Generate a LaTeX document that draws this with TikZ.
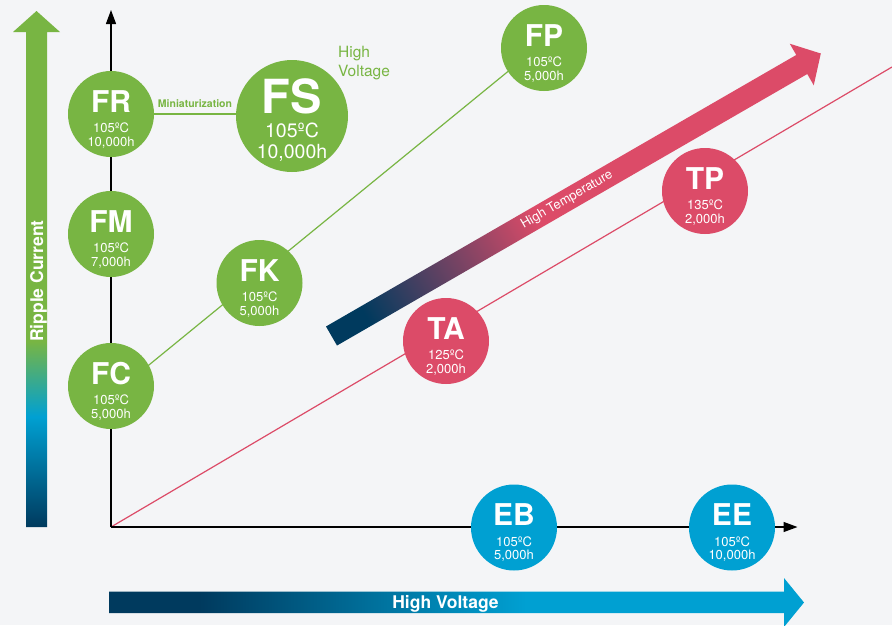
\documentclass[tikz,border=0pt]{standalone}
\usepackage{fontspec}
\setmainfont{TeX Gyre Heros}
\usetikzlibrary{arrows.meta,backgrounds}
\definecolor{bg}{HTML}{F4F5F7}
\definecolor{cgreen}{HTML}{78B543}
\definecolor{cred}{HTML}{DC4B68}
\definecolor{cblue}{HTML}{00A0D2}
\definecolor{cnavy}{HTML}{003A5E}
\pgfdeclareverticalshading{rippleshade}{100bp}{color(0bp)=(cnavy); color(25bp)=(cnavy); color(35.7bp)=(cblue); color(43bp)=(cgreen); color(75bp)=(cgreen); color(100bp)=(cgreen)}
\pgfdeclarehorizontalshading{voltshade}{100bp}{color(0bp)=(cnavy); color(31.5bp)=(cnavy); color(55bp)=(cblue); color(100bp)=(cblue)}
\pgfdeclarehorizontalshading{tempshade}{100bp}{color(0bp)=(cnavy); color(28.5bp)=(cnavy); color(46bp)=(cred); color(100bp)=(cred)}
\tikzset{
  bubg/.style={circle, inner sep=0pt, minimum size=86pt, fill=cgreen},
  bubr/.style={circle, inner sep=0pt, minimum size=86pt, fill=cred},
  bubb/.style={circle, inner sep=0pt, minimum size=86pt, fill=cblue},
  ttl/.style={anchor=base, inner sep=0pt, text=white, font=\bfseries\fontsize{30}{30}\selectfont},
  sub/.style={anchor=base, inner sep=0pt, text=white, font=\fontsize{13}{13}\selectfont},
  axisline/.style={line width=1.3pt, black, -{Triangle[length=14pt,width=10pt]}},
  gline/.style={line width=1.2pt, cgreen},
  rline/.style={line width=1.2pt, cred},
  bigtext/.style={text=white, inner sep=0pt, font=\bfseries\fontsize{17.5}{17.5}\selectfont},
  gtext/.style={text=cgreen, inner sep=0pt, font=\fontsize{15.5}{15.5}\selectfont},
}
\newcommand\bubble[7]{%
  \node[#4] (#1) at (#2,#3) {};
  \node[ttl] (#1-t) at ([yshift=2pt]#1.center) {#5};
  \node[sub] (#1-a) at ([yshift=-18.5pt]#1.center) {#6};
  \node[sub] (#1-b) at ([yshift=-32pt]#1.center) {#7};}
\begin{document}
\begin{tikzpicture}[x=1pt,y=-1pt]
\begin{scope}[on background layer]
\fill[bg] (0,0) rectangle (892,625);
\end{scope}
\useasboundingbox (0,0) rectangle (892,625);

% left gradient arrow
\shade[shading=rippleshade] (26,527) -- (26,32) -- (13,32) -- (36.5,11) -- (60,32) -- (47,32) -- (47,527) -- cycle;
\node[bigtext, rotate=90, anchor=base] (ripple) at (43,281) {Ripple Current};

% bottom gradient arrow
\shade[shading=voltshade] (109,591.5) -- (784,591.5) -- (784,578) -- (804,602.5) -- (784,627) -- (784,613) -- (109,613) -- cycle;
\node[bigtext, anchor=base] (hvolt) at (445.5,608) {High Voltage};

% axes
\coordinate (O) at (111,527);
\coordinate (ytop) at (111,10);
\coordinate (xend) at (797.5,527);
\coordinate (redend) at (892,67);
\draw[rline] (O) -- (redend);
\draw[axisline] (O) -- (ytop);
\draw[axisline] (O) -- (xend);

% high temperature arrow
\begin{scope}[transform canvas={shift={(331.5,336)}, rotate=30}]
\shade[shading=tempshade] (0,-11) -- (543,-11) -- (543,-24) -- (565,0) -- (543,24) -- (543,11) -- (0,11) -- cycle;
\end{scope}
\node[rotate=30, text=white, inner sep=0pt, font=\fontsize{13}{13}\selectfont] (htemp) at (567,200) {High Temperature};

% bubbles
\bubble{FR}{111}{114}{bubg}{FR}{105ºC}{10,000h}
\bubble{FM}{111}{234}{bubg}{FM}{105ºC}{7,000h}
\bubble{FC}{111}{386}{bubg}{FC}{105ºC}{5,000h}
\bubble{FK}{259.5}{283}{bubg}{FK}{105ºC}{5,000h}
\bubble{FP}{544}{48}{bubg}{FP}{105ºC}{5,000h}
\bubble{TA}{446}{341}{bubr}{TA}{125ºC}{2,000h}
\bubble{TP}{705}{191}{bubr}{TP}{135ºC}{2,000h}
\bubble{EB}{514}{527.5}{bubb}{EB}{105ºC}{5,000h}
\bubble{EE}{732}{527.5}{bubb}{EE}{105ºC}{10,000h}

\node[circle, inner sep=0pt, minimum size=112pt, fill=cgreen] (FS) at (292,116) {};
\node[anchor=base, inner sep=0pt, text=white, font=\bfseries\fontsize{47}{47}\selectfont] (FS-t) at ([yshift=3pt]FS.center) {FS};
\node[anchor=base, inner sep=0pt, text=white, font=\fontsize{19.5}{19.5}\selectfont] (FS-a) at ([yshift=-21pt]FS.center) {105ºC};
\node[anchor=base, inner sep=0pt, text=white, font=\fontsize{19.5}{19.5}\selectfont] (FS-b) at ([yshift=-42pt]FS.center) {10,000h};

% green labels
\node[gtext, anchor=base west] (hvg1) at (338,57) {High};
\node[gtext, anchor=base west] (hvg2) at (338,76) {Voltage};
\node[anchor=base, inner sep=0pt, text=cgreen, font=\bfseries\fontsize{10.5}{10.5}\selectfont] (mini) at (195,107) {Miniaturization};

% green connectors (behind bubbles)
\begin{scope}[on background layer]
\draw[gline] (FR.east) -- (FR.east -| FS.west);
\draw[gline] ([yshift=-10pt]FC.center) -- ([yshift=6pt]FP.center);
\end{scope}
\end{tikzpicture}
\end{document}
